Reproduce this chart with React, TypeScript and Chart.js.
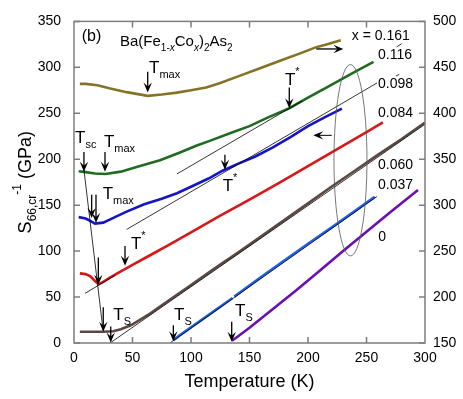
import React, { useEffect, useRef } from "react";
import { Chart, registerables } from "chart.js";

Chart.register(...registerables);

// ---- data (Temperature in K, S66,cr^-1 in GPa on left axis scale) ----
const t161 = [5, 10, 20, 31, 45, 63, 75, 88, 100, 113, 125, 142, 159, 179, 195, 207, 215, 228];
const s161 = [282, 282, 280.5, 277, 273, 269, 270.5, 272.5, 275, 278, 283, 291, 299, 308.5, 316, 322, 324.5, 329.5];

const t116 = [4, 10, 18, 27, 40, 55, 73.5, 90, 105, 116, 135, 150, 165, 184, 200, 220, 240, 256];
const s116 = [187, 186, 184.5, 184, 186.5, 192, 199, 207, 215, 220, 229, 236, 245, 255.5, 267, 281, 295, 306];

const t098 = [4, 10, 15, 18, 25, 35, 45, 60, 75, 88, 100, 115, 127, 140, 155, 170, 185, 200, 215, 229];
const s098 = [137, 135.5, 132, 130, 131, 137, 143, 151, 157, 163, 170, 179, 187.5, 195, 203, 213, 224, 236, 246, 255];

const t084 = [5, 10, 14, 18, 21, 25, 30, 40, 50, 65, 80, 100, 125, 150, 175, 200, 225, 250, 264];
const s084 = [75.8, 75, 72.5, 67.5, 64, 66.5, 70.5, 78, 85, 95.5, 106, 120.5, 138.5, 156, 174, 192.5, 211, 229.5, 240];

const t060 = [5, 15, 25, 33.5, 40, 49, 65, 80, 100, 120, 142, 160, 180, 200, 220, 240, 260, 280, 300];
const s060 = [12.2, 12.2, 12.3, 12.8, 15, 19.5, 32, 45.5, 63, 81, 100, 116, 134, 152, 170, 187.5, 205, 222, 240];

const t037 = [85, 90, 100, 120, 135.5, 136, 137, 159, 180, 200, 220, 240, 257];
const s037 = [3, 8, 17, 35, 49, null, 50.5, 71, 90, 108, 125.5, 143.5, 159];

const t000 = [135, 140, 150, 170, 190, 210, 230, 250, 270, 294];
const s000 = [2.5, 7, 16.5, 37, 57.5, 78.5, 100, 121, 142, 166.5];

// linear guide lines
const fitT116 = [88, 195];
const fitV116 = [184, 263.5];
const fitT098 = [45, 259];
const fitV098 = [123.6, 283];
const fitT084 = [9.4, 35];
const fitV084 = [54, 73.6];
const fitT060 = [30.8, 300];
const fitV060 = [0, 238];
const fitT037 = [82, 259];
const fitV037 = [0, 159.5];
const tscT = [8.5, 24.8];
const tscV = [188.6, 14];

const seriesNames = ["x = 0.161", "0.116", "0.098", "0.084", "0.060", "0.037", "0"];
const seriesColors = ["#857326", "#1f6b22", "#1414c8", "#d81818", "#5b4843", "#2060e8", "#6a10b0"];

const xTickVals = [0, 50, 100, 150, 200, 250, 300];
const leftTickVals = [0, 50, 100, 150, 200, 250, 300, 350];
const rightTickVals = [150, 200, 250, 300, 350, 400, 450, 500];

// annotation anchors in data coordinates
const seriesLabelPos = [
  [237.4, 334.4],
  [259.8, 313.3],
  [259.8, 281.6],
  [259.8, 250.3],
  [259.8, 193.6],
  [259.8, 172.1],
  [260.1, 115.6],
];

// vertical arrows: [T, Vstart, Vend]
const downArrows = [
  [63, 295.3, 272.6],
  [184, 278, 255.4],
  [8.5, 208, 186.4],
  [26.5, 208, 186.4],
  [15.1, 161.3, 136.1],
  [18.8, 161.3, 130.7],
  [129, 205, 188.5],
  [20.8, 93, 63.5],
  [43.6, 105.6, 84],
  [25, 39, 12.2],
  [31.4, 18, 0.5],
  [84.9, 19.4, 2],
  [134.8, 23, 1.4],
];

// T labels: [T, V(baseline), kind, text]
const tLabels: [number, number, string, string][] = [
  [64.1, 294.2, "sub", "max"],
  [180.3, 281.3, "sup", "*"],
  [0.85, 217.7, "sub", "sc"],
  [25.6, 213.4, "sub", "max"],
  [24.5, 157, "sub", "max"],
  [127.1, 164.9, "sup", "*"],
  [48.7, 102, "sup", "*"],
  [33.6, 24.8, "sub", "S"],
  [85.5, 24.8, "sub", "S"],
  [137.6, 29.1, "sub", "S"],
];

const FONT = "'Liberation Sans', Arial, Helvetica, sans-serif";
const NARROW = "'Liberation Sans Narrow', 'Liberation Sans', Arial, sans-serif";

type Part = { t: string; s: number; dy: number; it?: boolean };

function setFont(ctx: CanvasRenderingContext2D, p: Part) {
  ctx.font = `${p.it ? "italic " : ""}${p.s}px ${FONT}`;
}
function richWidth(ctx: CanvasRenderingContext2D, parts: Part[]) {
  let w = 0;
  for (const p of parts) {
    setFont(ctx, p);
    w += ctx.measureText(p.t).width;
  }
  return w;
}
function drawRich(ctx: CanvasRenderingContext2D, parts: Part[], x: number, y: number) {
  let cx = x;
  for (const p of parts) {
    setFont(ctx, p);
    ctx.fillText(p.t, cx, y + p.dy);
    cx += ctx.measureText(p.t).width;
  }
}

function arrowHead(ctx: CanvasRenderingContext2D, x: number, y: number, dir: "down" | "left" | "right") {
  const L = 10, W = 4.2, N = 6;
  ctx.beginPath();
  if (dir === "down") {
    ctx.moveTo(x, y);
    ctx.lineTo(x - W, y - L);
    ctx.lineTo(x, y - N);
    ctx.lineTo(x + W, y - L);
  } else if (dir === "right") {
    ctx.moveTo(x, y);
    ctx.lineTo(x - L, y - W);
    ctx.lineTo(x - N, y);
    ctx.lineTo(x - L, y + W);
  } else {
    ctx.moveTo(x, y);
    ctx.lineTo(x + L, y - W);
    ctx.lineTo(x + N, y);
    ctx.lineTo(x + L, y + W);
  }
  ctx.closePath();
  ctx.fill();
}

const overlay = {
  id: "overlay",
  afterDraw(chart: any) {
    const { ctx, chartArea: ca, scales } = chart;
    const xs = scales.x, ys = scales.y, yr = scales.y1;
    const px = (t: number) => xs.getPixelForValue(t);
    const py = (v: number) => ys.getPixelForValue(v);
    ctx.save();

    // frame + inward ticks
    ctx.strokeStyle = "#7d7d7d";
    ctx.lineWidth = 1.5;
    ctx.strokeRect(ca.left, ca.top, ca.right - ca.left, ca.bottom - ca.top);
    ctx.beginPath();
    for (const t of xTickVals) {
      if (t === xTickVals[0] || t === xTickVals[xTickVals.length - 1]) continue;
      const x = px(t);
      ctx.moveTo(x, ca.bottom); ctx.lineTo(x, ca.bottom - 6);
      ctx.moveTo(x, ca.top); ctx.lineTo(x, ca.top + 6);
    }
    for (const v of leftTickVals) {
      const y = py(v);
      ctx.moveTo(ca.left, y); ctx.lineTo(ca.left + 6, y);
    }
    for (const v of rightTickVals) {
      const y = yr.getPixelForValue(v);
      ctx.moveTo(ca.right, y); ctx.lineTo(ca.right - 6, y);
    }
    ctx.stroke();

    // ellipse
    ctx.strokeStyle = "#555";
    ctx.lineWidth = 0.8;
    const ecx = px(236.3), ecy = py(198.9);
    const erx = px(236.3 + 14.1) - ecx, ery = ecy - py(198.9 + 104.1);
    ctx.beginPath();
    ctx.ellipse(ecx, ecy, erx, ery, 0, 0, Math.PI * 2);
    ctx.stroke();

    // tiny leader lines
    ctx.strokeStyle = "#000";
    ctx.beginPath();
    ctx.moveTo(px(275.8), py(322.2)); ctx.lineTo(px(280.1), py(325.8));
    ctx.moveTo(px(275.2), py(290.6)); ctx.lineTo(px(278.0), py(292.3));
    ctx.stroke();

    // arrows
    ctx.fillStyle = "#000";
    ctx.strokeStyle = "#000";
    ctx.lineWidth = 1.3;
    for (const [t, v1, v2] of downArrows) {
      const x = px(t);
      ctx.beginPath();
      ctx.moveTo(x, py(v1)); ctx.lineTo(x, py(v2) - 5);
      ctx.stroke();
      arrowHead(ctx, x, py(v2), "down");
    }
    // horizontal arrows
    {
      const y = py(320);
      ctx.beginPath(); ctx.moveTo(px(207.1), y); ctx.lineTo(px(230.2) - 5, y); ctx.stroke();
      arrowHead(ctx, px(230.2), y, "right");
      const y2 = py(226);
      ctx.lineWidth = 1;
      ctx.beginPath(); ctx.moveTo(px(220.3), y2); ctx.lineTo(px(204.5) + 5, y2); ctx.stroke();
      arrowHead(ctx, px(204.5), y2, "left");
    }

    // T labels
    ctx.textBaseline = "alphabetic";
    ctx.textAlign = "left";
    for (const [t, v, kind, txt] of tLabels) {
      const parts: Part[] = [{ t: "T", s: 17, dy: 0 }];
      if (kind === "sub") parts.push({ t: txt, s: 11, dy: 5 });
      else parts.push({ t: txt, s: 11, dy: -10 });
      drawRich(ctx, parts, px(t), py(v));
    }

    // series labels
    ctx.textBaseline = "middle";
    ctx.font = `14px ${FONT}`;
    seriesNames.forEach((n, i) => {
      const [t, v] = seriesLabelPos[i];
      ctx.fillText(n, px(t), py(v));
    });

    // panel label + formula
    ctx.font = `16px ${FONT}`;
    ctx.fillText("(b)", px(6.6), py(334));
    ctx.textBaseline = "alphabetic";
    drawRich(
      ctx,
      [
        { t: "Ba(Fe", s: 15, dy: 0 },
        { t: "1-", s: 10, dy: 5 },
        { t: "x", s: 10, dy: 5, it: true },
        { t: "Co", s: 15, dy: 0 },
        { t: "x", s: 10, dy: 5, it: true },
        { t: ")", s: 15, dy: 0 },
        { t: "2", s: 10, dy: 5 },
        { t: "As", s: 15, dy: 0 },
        { t: "2", s: 10, dy: 5 },
      ],
      px(39.3),
      py(322.7)
    );

    // axis titles
    ctx.font = `18px ${FONT}`;
    ctx.textAlign = "center";
    ctx.fillText("Temperature (K)", (ca.left + ca.right) / 2, 387);
    ctx.textAlign = "left";
    const yt: Part[] = [
      { t: "S", s: 18, dy: 0 },
      { t: "66,cr", s: 12, dy: 5 },
      { t: "-1", s: 12, dy: -10 },
      { t: " (GPa)", s: 18, dy: 0 },
    ];
    const w = richWidth(ctx, yt);
    ctx.translate(31, (ca.top + ca.bottom) / 2);
    ctx.rotate(-Math.PI / 2);
    drawRich(ctx, yt, -w / 2, 0);
    ctx.restore();
  },
};

function line(ts: number[], vs: (number | null)[], color: string, width: number, order: number) {
  return {
    data: ts.map((t, i) => ({ x: t, y: vs[i] })),
    borderColor: color,
    borderWidth: width,
    pointRadius: 0,
    tension: 0,
    fill: false,
    spanGaps: false,
    order,
  };
}

export default function App() {
  const ref = useRef<HTMLCanvasElement>(null);
  useEffect(() => {
    document.body.style.margin = "0";
    const ticksFont = { family: NARROW, size: 14 };
    const chart = new Chart(ref.current!, {
      type: "line",
      data: {
        datasets: [
          line(fitT116, fitV116, "#000", 0.8, 0),
          line(fitT098, fitV098, "#000", 0.8, 0),
          line(fitT084, fitV084, "#000", 0.8, 0),
          line(fitT060, fitV060, "#000", 0.8, 0),
          line(fitT037, fitV037, "#000", 0.8, 0),
          line(tscT, tscV, "#000", 0.8, 0),
          line(t161, s161, seriesColors[0], 2.6, 1),
          line(t116, s116, seriesColors[1], 2.6, 1),
          line(t098, s098, seriesColors[2], 2.6, 1),
          line(t084, s084, seriesColors[3], 2.6, 1),
          line(t060, s060, seriesColors[4], 2.6, 1),
          line(t037, s037, seriesColors[5], 2.6, 1),
          line(t000, s000, seriesColors[6], 2.6, 1),
        ] as any,
      },
      options: {
        animation: false,
        responsive: false,
        layout: { padding: { top: 18, left: 0, right: 0, bottom: 0 } },
        plugins: { legend: { display: false }, tooltip: { enabled: false } },
        scales: {
          x: {
            type: "linear",
            position: "bottom",
            min: 0,
            max: 300,
            ticks: { stepSize: 50, font: ticksFont, color: "#000", padding: 7, autoSkip: false, maxRotation: 0 },
            grid: { display: false, drawTicks: false },
            border: { display: false },
            afterFit: (s: any) => { s.height = 56; },
          },
          y: {
            type: "linear",
            position: "left",
            min: 0,
            max: 350,
            ticks: { stepSize: 50, font: ticksFont, color: "#000", padding: 13, autoSkip: false },
            grid: { display: false, drawTicks: false },
            border: { display: false },
            afterFit: (s: any) => { s.width = 74; },
          },
          y1: {
            type: "linear",
            position: "right",
            min: 150,
            max: 500,
            ticks: { stepSize: 50, font: ticksFont, color: "#000", padding: 8, autoSkip: false },
            grid: { display: false, drawTicks: false },
            border: { display: false },
            afterFit: (s: any) => { s.width = 38; },
          },
        },
      },
      plugins: [overlay],
    });
    return () => chart.destroy();
  }, []);
  return (
    <div style={{ position: "fixed", left: 0, top: 0, width: 463, height: 399, background: "#fff" }}>
      <canvas ref={ref} width={463} height={399} style={{ width: 463, height: 399 }} />
    </div>
  );
}
